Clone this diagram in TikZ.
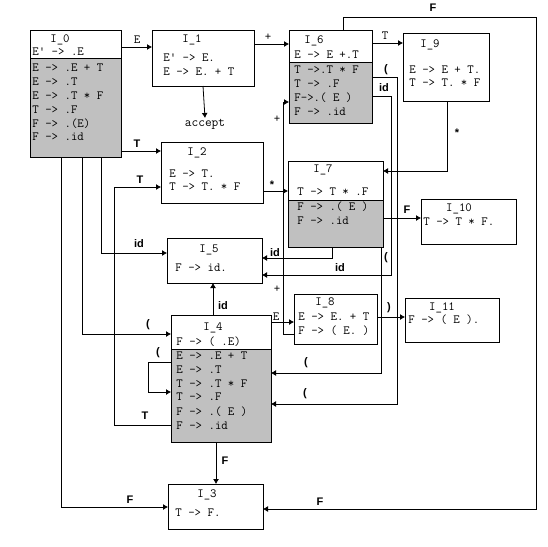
\documentclass[tikz,border=0pt]{standalone}
\usepackage{fontspec}
\newfontfamily\boldf{Liberation Sans}
\usetikzlibrary{arrows.meta}
\definecolor{silver}{RGB}{192,192,192}
\begin{document}
\begin{tikzpicture}[x=1pt,y=-1pt,line width=0.8pt,
  box/.style={draw,anchor=north west,inner sep=0pt,outer sep=0pt},
  lower/.style={path picture={
      \fill[silver] ([yshift=-#1]path picture bounding box.north west) rectangle (path picture bounding box.south east);
      \draw ([yshift=-#1]path picture bounding box.north west) -- ([yshift=-#1]path picture bounding box.north east);}},
  txt/.style={anchor=west,inner sep=0pt,font=\ttfamily\fontsize{12.5}{13}\selectfont},
  ttl/.style={inner sep=0pt,font=\ttfamily\fontsize{12.5}{13}\selectfont},
  mlab/.style={inner sep=0pt,font=\ttfamily\fontsize{12.5}{13}\selectfont},
  lab/.style={inner sep=0pt,font=\boldf\bfseries\fontsize{11}{12}\selectfont},
  arr/.style={-{Latex[length=5pt,width=6pt]}},
]
\useasboundingbox (0,0) rectangle (548,546);

% ---------- boxes ----------
\node[box,lower=28pt,minimum width=91pt,minimum height=127pt] (I0) at (30,30) {};
\node[box,minimum width=102pt,minimum height=56pt] (I1) at (152,30) {};
\node[box,lower=32pt,minimum width=83pt,minimum height=93pt] (I6) at (289,30) {};
\node[box,minimum width=86pt,minimum height=68pt] (I9) at (403,33) {};
\node[box,minimum width=102pt,minimum height=61pt] (I2) at (161,142) {};
\node[box,lower=39pt,minimum width=95pt,minimum height=86pt] (I7) at (288,161) {};
\node[box,minimum width=95pt,minimum height=45pt] (I10) at (421,199) {};
\node[box,minimum width=95pt,minimum height=45pt] (I5) at (167,238) {};
\node[box,minimum width=83pt,minimum height=50pt] (I8) at (294,294) {};
\node[box,minimum width=94pt,minimum height=44pt] (I11) at (405,298) {};
\node[box,lower=34pt,minimum width=100pt,minimum height=127pt] (I4) at (171,315) {};
\node[box,minimum width=95pt,minimum height=45pt] (I3) at (168,484) {};

% ---------- box texts ----------
\node[ttl] (t0) at (60,40) {I\_0};
\node[txt] (t0a) at (32,52) {E{\char39} -> .E};
\node[txt] (t0b) at (32,68) {E -> .E + T};
\node[txt] (t0c) at (32,82) {E -> .T};
\node[txt] (t0d) at (32,96) {E -> .T * F};
\node[txt] (t0e) at (32,110) {T -> .F};
\node[txt] (t0f) at (32,124) {F -> .(E)};
\node[txt] (t0g) at (32,137) {F -> .id};

\node[ttl] (t1) at (192,40) {I\_1};
\node[txt] (t1a) at (163,58) {E{\char39} -> E.};
\node[txt] (t1b) at (163,72) {E -> E. + T};

\node[ttl] (t6) at (314,41) {I\_6};
\node[txt] (t6a) at (294,55) {E -> E +.T};
\node[txt] (t6b) at (294,70) {T ->.T * F};
\node[txt] (t6c) at (294,84) {T -> .F};
\node[txt] (t6d) at (294,98) {F->.( E )};
\node[txt] (t6e) at (294,112) {F -> .id};

\node[ttl] (t9) at (430,45) {I\_9};
\node[txt] (t9a) at (409,70) {E -> E + T.};
\node[txt] (t9b) at (409,83) {T -> T. * F};

\node[ttl] (t2) at (197,153) {I\_2};
\node[txt] (t2a) at (169,174) {E -> T.};
\node[txt] (t2b) at (169,187) {T -> T. * F};

\node[ttl] (t7) at (323,170) {I\_7};
\node[txt] (t7a) at (297,192) {T -> T * .F};
\node[txt] (t7b) at (297,207) {F -> .( E )};
\node[txt] (t7c) at (297,221) {F -> .id};

\node[ttl] (t10) at (459,209) {I\_10};
\node[txt] (t10a) at (423,222) {T -> T * F.};

\node[ttl] (t5) at (209,250) {I\_5};
\node[txt] (t5a) at (175,268) {F -> id.};

\node[ttl] (t8) at (325,303) {I\_8};
\node[txt] (t8a) at (298,317) {E -> E. + T};
\node[txt] (t8b) at (298,331) {F -> ( E. )};

\node[ttl] (t11) at (442,308) {I\_11};
\node[txt] (t11a) at (408,320) {F -> ( E ).};

\node[ttl] (t4) at (213,328) {I\_4};
\node[txt] (t4a) at (176,342) {F -> ( .E)};
\node[txt] (t4b) at (176,356) {E -> .E + T};
\node[txt] (t4c) at (176,370) {E -> .T};
\node[txt] (t4d) at (176,384) {T -> .T * F};
\node[txt] (t4e) at (176,397) {T -> .F};
\node[txt] (t4f) at (176,412) {F -> .( E )};
\node[txt] (t4g) at (176,426) {F -> .id};

\node[ttl] (t3) at (207,495) {I\_3};
\node[txt] (t3a) at (175,513) {T -> F.};

\node[inner sep=1pt,anchor=north,font=\ttfamily\fontsize{13}{14}\selectfont\addfontfeature{LetterSpace=8}] (acc) at (205,118) {accept};

% ---------- connectors ----------
% I0
\draw[arr] (I0.east |- 0,47) -- (I1.west |- 0,47);
\node[mlab] (l1) at (137,40) {E};
\draw[arr] (I0.east |- 0,151) -- (I2.west |- 0,151);
\node[lab] (l2) at (137,144) {T};
\draw[arr] (I0.south -| 61,0) -- (61,507) -- (I3.west |- 0,507);
\node[lab] (l3) at (130,500) {F};
\draw[arr] (I0.south -| 82,0) -- (82,334) -- (I4.west |- 0,334);
\node[lab] (l4) at (148,325) {(};
\draw[arr] (I0.south -| 101,0) -- (101,253) -- (I5.west |- 0,253);
\node[lab] (l5) at (139,244) {id};
% I1
\draw[arr] (I1.south) -- (acc.north);
\draw[arr] (I1.east |- 0,44) -- (I6.west |- 0,44);
\node[mlab] (l6) at (268,37) {+};
% I6
\draw[arr] (I6.east |- 0,43) -- (I9.west |- 0,43);
\node[mlab] (l7) at (385,36) {T};
\draw[arr] (I6.north -| 343,0) -- (343,17) -- (536,17) -- (536,509) -- (I3.east |- 0,509);
\node[lab] (l8) at (433,8) {F};
\node[lab] (l9) at (320,502) {F};
\draw[arr] (I6.east |- 0,77) -- (397,77) -- (397,404) -- (I4.east |- 0,404);
\node[lab] (l10) at (386,70) {(};
\node[lab] (l11) at (305,394) {(};
\draw[arr] (I6.east |- 0,96) -- (391,96) -- (391,275) -- (I5.east |- 0,275);
\node[lab] (l12) at (384,88) {id};
\node[lab] (l13) at (340,268) {id};
% I9
\draw[arr] (I9.south -| 447,0) -- (447,171) -- (I7.east |- 0,171);
\node[lab] (l14) at (457,133) {*};
% I2
\draw[arr] (I2.east |- 0,191) -- (I7.west |- 0,191);
\node[lab] (l15) at (272,185) {*};
% I7
\draw[arr] (I7.east |- 0,218) -- (I10.west |- 0,218);
\node[lab] (l16) at (407,210) {F};
\draw[arr] (I7.south -| 332,0) -- (332,258) -- (I5.east |- 0,258);
\node[lab] (l17) at (275,253) {id};
\draw[arr] (I7.south -| 381,0) -- (381,373) -- (I4.east |- 0,373);
\node[lab] (l18) at (386,258) {(};
\node[lab] (l19) at (306,363) {(};
% I8
\draw[arr] (I8.west |- 0,334) -- (283,334) -- (283,102) -- (I6.west |- 0,102);
\node[mlab] (l20) at (277,119) {+};
\node[mlab] (l21) at (277,289) {+};
\draw[arr] (I8.east |- 0,317) -- (I11.west |- 0,317);
\node[lab] (l22) at (389,308) {)};
% I4
\draw[arr] (I4.east |- 0,322) -- (I8.west |- 0,322);
\node[mlab] (l23) at (276,317) {E};
\draw[arr] (I4.north -| 213,0) -- (I5.south -| 213,0);
\node[lab] (l24) at (223,306) {id};
\draw[arr] (I4.south -| 216,0) -- (I3.north -| 216,0);
\node[lab] (l25) at (225,461) {F};
\draw[arr] (I4.west |- 0,425) -- (114,425) -- (114,187) -- (I2.west |- 0,187);
\node[lab] (l26) at (145,416) {T};
\node[lab] (l27) at (140,180) {T};
\draw[arr] (I4.west |- 0,362) -- (148,362) -- (148,392) -- (I4.west |- 0,392);
\node[lab] (l28) at (158,353) {(};
\end{tikzpicture}
\end{document}
